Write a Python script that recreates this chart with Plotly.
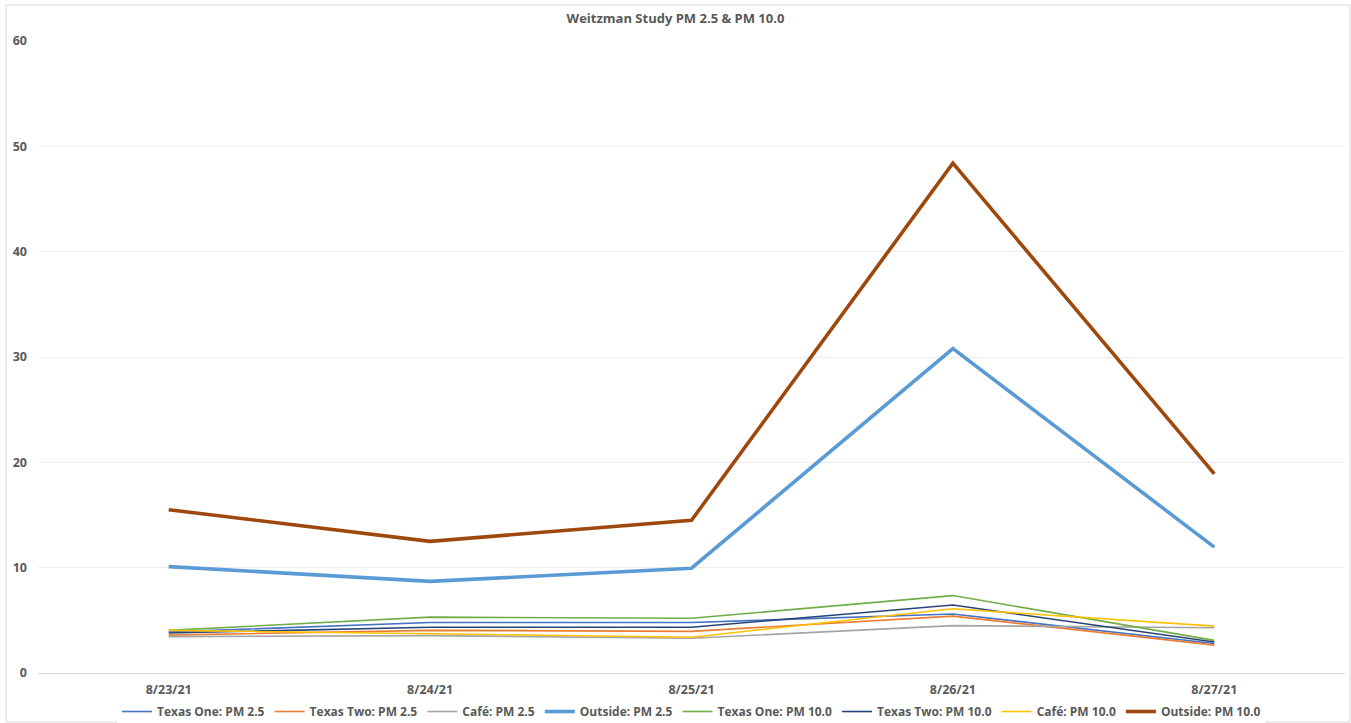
import plotly.graph_objects as go

dates = ["8/23/21", "8/24/21", "8/25/21", "8/26/21", "8/27/21"]

texas_one_pm25 = [3.9, 4.8, 4.8, 5.6, 2.8]
texas_two_pm25 = [3.6, 4.05, 3.95, 5.4, 2.65]
cafe_pm25 = [3.45, 3.55, 3.3, 4.5, 4.3]
outside_pm25 = [10.1, 8.7, 9.95, 30.8, 11.95]
texas_one_pm10 = [4.05, 5.3, 5.2, 7.35, 3.1]
texas_two_pm10 = [3.8, 4.35, 4.35, 6.45, 2.95]
cafe_pm10 = [4.05, 3.75, 3.4, 6.1, 4.45]
outside_pm10 = [15.5, 12.5, 14.5, 48.4, 18.9]

series = [
    ("Texas One: PM 2.5", texas_one_pm25, "#4472C4", 1.6),
    ("Texas Two: PM 2.5", texas_two_pm25, "#ED7D31", 1.6),
    ("Café: PM 2.5", cafe_pm25, "#A5A5A5", 1.6),
    ("Outside: PM 2.5", outside_pm25, "#5B9BD5", 3.6),
    ("Texas One: PM 10.0", texas_one_pm10, "#70AD47", 1.6),
    ("Texas Two: PM 10.0", texas_two_pm10, "#264478", 1.6),
    ("Café: PM 10.0", cafe_pm10, "#FFC000", 1.6),
    ("Outside: PM 10.0", outside_pm10, "#9E480E", 3.6),
]

fig = go.Figure()
for name, vals, color, w in series:
    fig.add_trace(go.Scatter(x=dates, y=vals, name=name, mode="lines",
                             line=dict(color=color, width=w)))

font_fam = "Open Sans, Liberation Sans, sans-serif"
fig.update_layout(
    width=1351, height=723,
    margin=dict(l=38, r=6, t=41, b=50, autoexpand=False),
    paper_bgcolor="white", plot_bgcolor="white",
    title=dict(text="<b>Weitzman Study PM 2.5 & PM 10.0</b>", x=0.5, xanchor="center",
               y=0.975, yanchor="middle",
               font=dict(family=font_fam, size=13, color="#595959")),
    font=dict(family=font_fam, size=12, color="#595959"),
    xaxis=dict(type="category", showgrid=False, showline=True, linecolor="#D9D9D9",
               linewidth=1, ticks="", tickfont=dict(size=12.5, color="#595959", weight="bold"),
               range=[-0.5, 4.5], ticklabelstandoff=5),
    yaxis=dict(range=[0, 60], dtick=10, showgrid=True, gridcolor="#EDEDED", gridwidth=1,
               zeroline=False, showline=False, ticks="",
               tickfont=dict(size=12.5, color="#595959", weight="bold"),
               ticklabelstandoff=10),
    legend=dict(orientation="h", x=0.5, xanchor="center", y=-0.038, yanchor="top",
                font=dict(size=12, color="#595959", weight="bold"),
                itemwidth=30, tracegroupgap=0, traceorder="normal"),
    shapes=[dict(type="rect", xref="paper", yref="paper",
                 x0=-0.0245, x1=1.0038, y0=-0.0775, y1=1.057,
                 line=dict(color="#D9D9D9", width=1), fillcolor="rgba(0,0,0,0)",
                 layer="below")],
)

fig.write_html("out.html")
